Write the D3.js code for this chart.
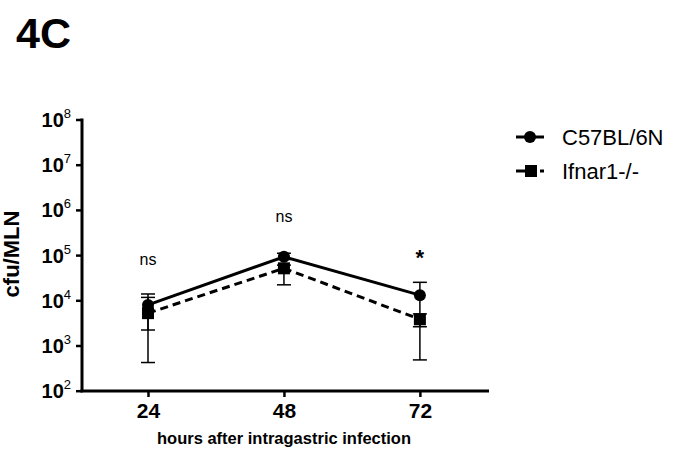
<!DOCTYPE html>
<html>
<head>
<meta charset="utf-8">
<script src="https://cdn.jsdelivr.net/npm/d3@7"></script>
<style>
  body { margin: 0; background: #fff; }
  text { font-family: "Liberation Sans", Arial, sans-serif; fill: #000; }
</style>
</head>
<body>
<div id="app"></div>
<script>
var hours = [24, 48, 72];
var c57 = [7.9e3, 9.2e4, 1.3e4];
var c57Hi = [1.38e4, 1.1e5, 2.5e4];
var c57Lo = [2.2e3, 8.0e4, 2.6e3];
var ifn = [5.2e3, 5.1e4, 3.8e3];
var ifnHi = [1.16e4, 6.0e4, 5.0e3];
var ifnLo = [4.2e2, 2.2e4, 4.8e2];
var sigLabels = ['ns', 'ns', '*'];
var sigValues = [6.0e4, 5.4e5, 6.0e4];
var yTicks = [2, 3, 4, 5, 6, 7, 8];
var seriesNames = ['C57BL/6N', 'Ifnar1-/-'];

var svg = d3.select('#app')
  .append('svg')
    .attr('width', 679)
    .attr('height', 451);

var x = d3.scaleLinear().domain([12.35, 84.2]).range([82, 489]);
var y = d3.scaleLog().domain([1e2, 1e8]).range([390.7, 119.5]);

// title
svg.append('text')
    .attr('x', 16)
    .attr('y', 48)
    .style('font-size', '43px')
    .style('font-weight', 'bold')
    .text('4C');

// axes
var yAxis = d3.axisLeft(y)
    .tickValues(yTicks.map(function(d){ return Math.pow(10, d); }))
    .tickSize(6)
    .tickSizeOuter(0)
    .tickFormat('');
var gy = svg.append('g').attr('transform', 'translate(82,0)').call(yAxis);
gy.select('.domain').attr('stroke-width', 3).attr('d', 'M0,' + (y.range()[1] - 1) + 'V' + (y.range()[0] + 1.5));
gy.selectAll('.tick line').attr('stroke-width', 2.5);

gy.selectAll('.tick')
  .append('text')
    .attr('x', -11)
    .attr('y', 7)
    .attr('text-anchor', 'end')
    .style('font-size', '20px')
    .style('font-weight', 'bold')
    .each(function(d){
        var t = d3.select(this);
        t.append('tspan').text('10');
        t.append('tspan')
          .attr('dy', -9)
          .style('font-size', '13px')
          .style('font-weight', 'normal')
          .text(Math.round(Math.log10(d)));
    });

var xAxis = d3.axisBottom(x)
    .tickValues(hours)
    .tickSize(6)
    .tickSizeOuter(0)
    .tickFormat(d3.format('d'));
var gx = svg.append('g').attr('transform', 'translate(0,391)').call(xAxis);
gx.select('.domain').attr('stroke-width', 3).attr('d', 'M80.5,0H489');
gx.selectAll('.tick line').attr('stroke-width', 2.5);
gx.selectAll('.tick text')
    .attr('y', 27)
    .attr('dy', 0)
    .style('font-size', '21px')
    .style('font-weight', 'bold')
    .style('font-family', '"Liberation Sans", Arial, sans-serif');

// axis labels
svg.append('text')
    .attr('x', 284)
    .attr('y', 444)
    .attr('text-anchor', 'middle')
    .style('font-size', '16.5px')
    .style('font-weight', 'bold')
    .text('hours after intragastric infection');

svg.append('text')
    .attr('transform', 'translate(19,254) rotate(-90)')
    .attr('text-anchor', 'middle')
    .style('font-size', '22px')
    .style('font-weight', 'bold')
    .text('cfu/MLN');

// error bars
function errorBars(mean, lo, hi) {
    var g = svg.append('g').attr('stroke', '#000').attr('stroke-width', 1.5);
    hours.forEach(function(h, i){
        var cx = x(h);
        g.append('line').attr('x1', cx).attr('x2', cx).attr('y1', y(lo[i])).attr('y2', y(hi[i]));
        [lo[i], hi[i]].forEach(function(v){
            g.append('line').attr('x1', cx - 7).attr('x2', cx + 7).attr('y1', y(v)).attr('y2', y(v));
        });
    });
}
errorBars(ifn, ifnLo, ifnHi);
errorBars(c57, c57Lo, c57Hi);

var line = d3.line()
    .x(function(d, i){ return x(hours[i]); })
    .y(function(d){ return y(d); });

svg.append('path')
    .datum(ifn)
    .attr('d', line)
    .attr('fill', 'none')
    .attr('stroke', '#000')
    .attr('stroke-width', 3)
    .attr('stroke-dasharray', '8,5');

svg.append('path')
    .datum(c57)
    .attr('d', line)
    .attr('fill', 'none')
    .attr('stroke', '#000')
    .attr('stroke-width', 3);

svg.append('g').selectAll('rect')
    .data(ifn)
  .enter().append('rect')
    .attr('x', function(d, i){ return x(hours[i]) - 6; })
    .attr('y', function(d){ return y(d) - 6; })
    .attr('width', 12)
    .attr('height', 12);

svg.append('g').selectAll('circle')
    .data(c57)
  .enter().append('circle')
    .attr('cx', function(d, i){ return x(hours[i]); })
    .attr('cy', function(d){ return y(d); })
    .attr('r', 6);

// significance
svg.append('g').selectAll('text')
    .data(sigLabels)
  .enter().append('text')
    .attr('x', function(d, i){ return x(hours[i]); })
    .attr('y', function(d, i){ return y(sigValues[i]); })
    .attr('text-anchor', 'middle')
    .style('font-size', function(d){ return d === '*' ? '22px' : '16px'; })
    .style('font-weight', function(d){ return d === '*' ? 'bold' : 'normal'; })
    .text(function(d){ return d; });

// legend
var leg = svg.append('g').attr('transform', 'translate(516,0)');
[137, 171].forEach(function(ly, i){
    leg.append('line')
        .attr('x1', 0).attr('x2', 28).attr('y1', ly).attr('y2', ly)
        .attr('stroke', '#000').attr('stroke-width', 3)
        .attr('stroke-dasharray', i ? '9,3,9,3' : null);
    if (i) leg.append('rect').attr('x', 9).attr('y', ly - 6).attr('width', 12).attr('height', 12);
    else leg.append('circle').attr('cx', 14).attr('cy', ly).attr('r', 6);
    leg.append('text')
        .attr('x', 46)
        .attr('y', ly + 8)
        .style('font-size', '22px')
        .text(seriesNames[i]);
});
</script>
</body>
</html>
